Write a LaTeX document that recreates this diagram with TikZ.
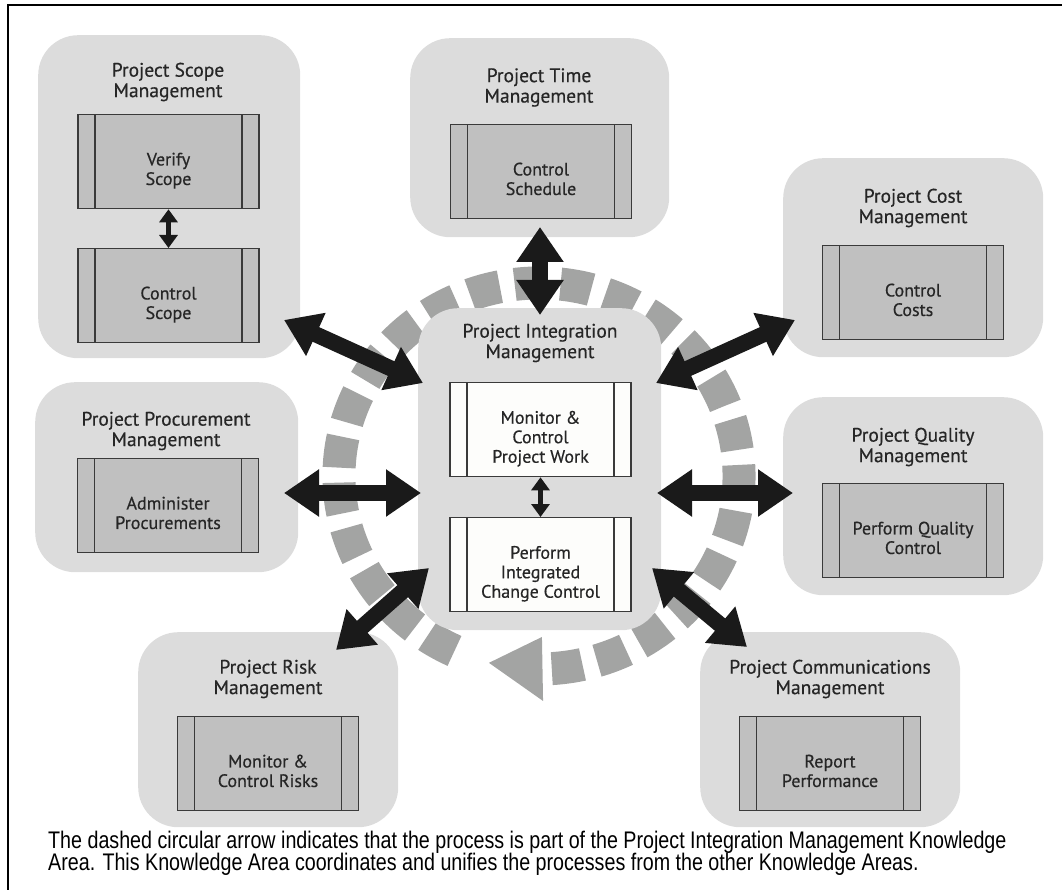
\documentclass[tikz,border=0pt]{standalone}
\usepackage{fontspec}
\setmainfont{PT Sans}[FakeBold=0.45]
\newfontfamily\capfont[FakeStretch=0.82]{Liberation Sans}
\usetikzlibrary{arrows.meta,calc}
\definecolor{areafill}{HTML}{DCDCDC}
\definecolor{procfill}{HTML}{C0C0C0}
\definecolor{procwhite}{HTML}{FDFDFB}
\definecolor{procline}{HTML}{3A3A3A}
\definecolor{dashgray}{HTML}{A3A4A3}
\definecolor{arrowblack}{HTML}{1A1A1A}
\definecolor{textdark}{HTML}{262626}
\newcommand{\ptxt}[1]{\raisebox{-14pt}[0pt][0pt]{\begin{tabular}{@{}c@{}}#1\end{tabular}}}
\tikzset{
  area/.style={fill=areafill, draw=none, rounded corners=40pt, anchor=north west, inner sep=0pt},
  areatitle/.style={align=center, text=textdark, font=\fontsize{19.5}{20.5}\selectfont, inner sep=0pt},
  proc/.style={draw=procline, line width=1.3pt, fill=procfill, minimum width=181pt, minimum height=94pt,
    inner sep=0pt, anchor=north, text=textdark, font=\fontsize{18}{19.5}\selectfont,
    path picture={\draw[procline, line width=1.3pt]
      ([xshift=17pt]path picture bounding box.south west) -- ([xshift=17pt]path picture bounding box.north west)
      ([xshift=-17pt]path picture bounding box.south east) -- ([xshift=-17pt]path picture bounding box.north east);}},
  procw/.style={proc, fill=procwhite},
  bigarrow/.style={draw=arrowblack, line width=16pt, {Triangle[length=35pt,width=45pt,fill=arrowblack]}-{Triangle[length=35pt,width=45pt,fill=arrowblack]}},
  smallarrow/.style={draw=arrowblack, line width=5pt, {Triangle[length=13pt,width=18pt,fill=arrowblack]}-{Triangle[length=13pt,width=18pt,fill=arrowblack]}},
  circ/.style={draw=dashgray, line width=33pt, dash pattern=on 31pt off 15pt},
  captext/.style={anchor=base west, inner sep=0pt, text=black, font=\capfont\fontsize{24}{22}\selectfont}
}
\begin{document}
\begin{tikzpicture}[x=1pt,y=-1pt]
\useasboundingbox (0,0) rectangle (1062,890);
\draw[black, line width=2pt] (8,890) -- (8,5) -- (1062,5);

% dashed circular arrow
\coordinate (cc) at (539,476);
\draw[circ] ($(cc)+({200*cos(-245)},{193*sin(-245)})$) arc[start angle=-245, end angle=89, x radius=200, y radius=193];
\fill[dashgray] ($(cc)+({168*cos(89)},{161*sin(89)})$) -- ($(cc)+({232*cos(89)},{225*sin(89)})$) -- ($(cc)+({200*cos(104.5)},{193*sin(104.5)})$) -- cycle;

% knowledge areas
\node[area, minimum width=262pt, minimum height=323pt] (scope) at (38,35) {};
\node[area, minimum width=259pt, minimum height=199pt] (time) at (410,38) {};
\node[area, minimum width=260pt, minimum height=199pt] (cost) at (783,158) {};
\node[area, minimum width=243pt, minimum height=322pt] (integ) at (418,308) {};
\node[area, minimum width=263pt, minimum height=190pt] (proc) at (35,382) {};
\node[area, minimum width=260pt, minimum height=198pt] (quality) at (783,397) {};
\node[area, minimum width=260pt, minimum height=195pt] (risk) at (138,632) {};
\node[area, minimum width=260pt, minimum height=195pt] (comms) at (700,632) {};

% titles
\node[areatitle] (scopeT) at (168,82) {Project Scope\\Management};
\node[areatitle] (timeT) at (539,87.5) {Project Time\\Management};
\node[areatitle] (costT) at (913,208) {Project Cost\\Management};
\node[areatitle] (integT) at (540,343) {Project Integration\\Management};
\node[areatitle] (procT) at (166,431) {Project Procurement\\Management};
\node[areatitle] (qualityT) at (913,447) {Project Quality\\Management};
\node[areatitle] (riskT) at (268,679) {Project Risk\\Management};
\node[areatitle] (commsT) at (830,679) {Project Communications\\Management};

% processes
\node[proc] (verify) at (168.5,114) {\ptxt{Verify\\Scope}};
\node[proc] (cscope) at (168.5,248) {\ptxt{Control\\Scope}};
\node[proc] (csched) at (541,124) {\ptxt{Control\\Schedule}};
\node[proc] (ccost) at (913,245) {\ptxt{Control\\Costs}};
\node[procw] (monitor) at (540.5,382) {\ptxt{Monitor \&\\Control\\Project Work}};
\node[procw] (icc) at (540.5,517) {\ptxt{Perform\\Integrated\\Change Control}};
\node[proc] (admin) at (168,458) {\ptxt{Administer\\Procurements}};
\node[proc] (pqc) at (913,483) {\ptxt{Perform Quality\\Control}};
\node[proc] (mcr) at (268,716) {\ptxt{Monitor \&\\Control Risks}};
\node[proc] (rperf) at (830,716) {\ptxt{Report\\Performance}};

% small arrows
\draw[smallarrow] (verify.south) -- (cscope.north);
\draw[smallarrow] (monitor.south) -- (icc.north);

% big arrows
\coordinate (scopeE) at (284,320);  \coordinate (integScope) at (423,383);
\coordinate (timeE) at (540,227);   \coordinate (integTime) at (540,315);
\coordinate (costE) at (795,320);   \coordinate (integCost) at (656,383);
\coordinate (procE) at (284,493);   \coordinate (integProc) at (421,493);
\coordinate (qualityE) at (793,493);\coordinate (integQuality) at (657,493);
\coordinate (riskE) at (336,650);   \coordinate (integRisk) at (429,568);
\coordinate (commsE) at (747,647);  \coordinate (integComms) at (652,568);
\draw[bigarrow] (scopeE) -- (integScope);
\draw[bigarrow] (timeE) -- (integTime);
\draw[bigarrow] (costE) -- (integCost);
\draw[bigarrow] (procE) -- (integProc);
\draw[bigarrow] (qualityE) -- (integQuality);
\draw[bigarrow] (riskE) -- (integRisk);
\draw[bigarrow] (commsE) -- (integComms);

% caption
\node[captext] (cap1) at (48,848) {The dashed circular arrow indicates that the process is part of the Project Integration Management Knowledge};
\node[captext] (cap2) at (48,870) {Area. This Knowledge Area coordinates and unifies the processes from the other Knowledge Areas.};
\end{tikzpicture}
\end{document}
